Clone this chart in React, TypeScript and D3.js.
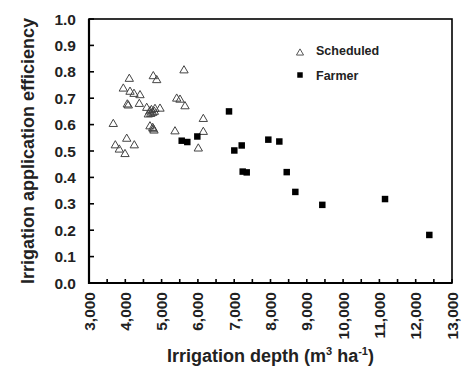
import * as d3 from "d3";

// Irrigation depth (m3/ha) and application efficiency
const scheduledDepth = [
  4110, 4771, 4865, 5617, 3945, 4130, 4240, 4405, 4055, 4083, 4386, 4590, 4680,
  4755, 4818, 4956, 4634, 5416, 5507, 5645, 6149, 3669, 4680, 4755, 4791, 5369,
  6149, 4039, 3725, 3835, 3992, 4248, 6011, 4720, 4800, 4700, 4770,
];
const scheduledEff = [
  0.773, 0.783, 0.768, 0.805, 0.736, 0.724, 0.716, 0.711, 0.676, 0.672, 0.678,
  0.663, 0.65, 0.644, 0.659, 0.66, 0.638, 0.698, 0.694, 0.669, 0.621, 0.602,
  0.593, 0.587, 0.577, 0.574, 0.572, 0.546, 0.521, 0.505, 0.488, 0.521, 0.509,
  0.655, 0.648, 0.64, 0.582,
];
const farmerDepth = [
  5554, 5708, 5984, 6857, 7207, 7003, 7940, 8243, 7234, 7345, 8447, 8684, 9427,
  11155, 12375,
];
const farmerEff = [
  0.539, 0.534, 0.555, 0.65, 0.521, 0.502, 0.543, 0.536, 0.422, 0.419, 0.42,
  0.345, 0.296, 0.318, 0.182,
];

const xTicks = [3000, 4000, 5000, 6000, 7000, 8000, 9000, 10000, 11000, 12000, 13000];
const xMinorTicks = d3.range(3000, 13001, 500);
const yTicks = [0, 0.1, 0.2, 0.3, 0.4, 0.5, 0.6, 0.7, 0.8, 0.9, 1.0];

const width = 474;
const height = 370;
const margin = { top: 19, right: 22, bottom: 87, left: 89 };
const font = "Liberation Sans, Arial, sans-serif";

export default function App() {
  const x = d3
    .scaleLinear()
    .domain([3000, 13000])
    .range([margin.left, width - margin.right]);
  const y = d3
    .scaleLinear()
    .domain([0, 1])
    .range([height - margin.bottom, margin.top]);

  const tri = d3.symbol(d3.symbolTriangle, 30)()!;
  const sq = d3.symbol(d3.symbolSquare, 42)()!;
  const fmt = d3.format(",");
  const x0 = x.range()[0];
  const x1 = x.range()[1];
  const y0 = y.range()[0];
  const y1 = y.range()[1];

  return (
    <svg
      width={width}
      height={height}
      style={{ position: "absolute", left: 0, top: 0, background: "#fff" }}
      fontFamily={font}
      fontWeight="bold"
    >
      <rect x={0} y={0} width={width} height={height} fill="#fff" />

      {/* frame */}
      <rect
        x={x0}
        y={y1}
        width={x1 - x0}
        height={y0 - y1}
        fill="none"
        stroke="#000"
        strokeWidth={1.6}
      />
      <line x1={x0} x2={x0} y1={y1} y2={y0 + 1} stroke="#000" strokeWidth={2.2} />
      <line x1={x0 - 1} x2={x1} y1={y0} y2={y0} stroke="#000" strokeWidth={2.2} />

      {/* y ticks */}
      {yTicks.map((t) => (
        <g key={t}>
          <line x1={x0} x2={x0 + 5} y1={y(t)} y2={y(t)} stroke="#000" strokeWidth={1.6} />
          <text x={x0 - 13} y={y(t)} dy="0.36em" textAnchor="end" fontSize={15.5} fill="#222">
            {t.toFixed(1)}
          </text>
        </g>
      ))}

      {/* x ticks */}
      {xMinorTicks.map((t) => (
        <line key={t} x1={x(t)} x2={x(t)} y1={y0} y2={y0 - 4} stroke="#000" strokeWidth={1.6} />
      ))}
      {xTicks.map((t) => (
        <text
          key={t}
          transform={`translate(${x(t)},${y0 + 9}) rotate(-90)`}
          dy="0.36em"
          textAnchor="end"
          fontSize={15.5}
          fill="#222"
        >
          {fmt(t)}
        </text>
      ))}

      {/* points */}
      {scheduledDepth.map((d, i) => (
        <path
          key={"s" + i}
          d={tri}
          transform={`translate(${x(d)},${y(scheduledEff[i])})`}
          fill="none"
          stroke="#444"
          strokeWidth={1}
        />
      ))}
      {farmerDepth.map((d, i) => (
        <path
          key={"f" + i}
          d={sq}
          transform={`translate(${x(d)},${y(farmerEff[i])})`}
          fill="#000"
        />
      ))}

      {/* legend */}
      <path d={d3.symbol(d3.symbolTriangle, 22)()!} transform="translate(300,53)" fill="none" stroke="#555" strokeWidth={1} />
      <text x={316} y={50} dy="0.36em" fontSize={12.5} fill="#222">
        Scheduled
      </text>
      <path d={d3.symbol(d3.symbolSquare, 30)()!} transform="translate(300,75)" fill="#000" />
      <text x={316} y={75} dy="0.36em" fontSize={12.5} fill="#222">
        Farmer
      </text>

      {/* axis titles */}
      <text
        transform={`translate(34,${(y0 + y1) / 2}) rotate(-90)`}
        textAnchor="middle"
        fontSize={18}
        fill="#222"
      >
        Irrigation application efficiency
      </text>
      <text x={(x0 + x1) / 2} y={362} textAnchor="middle" fontSize={18} fill="#222">
        Irrigation depth (m
        <tspan fontSize={11} dy={-7}>3</tspan>
        <tspan dy={7}> ha</tspan>
        <tspan fontSize={11} dy={-7}>-1</tspan>
        <tspan dy={7}>)</tspan>
      </text>
    </svg>
  );
}
